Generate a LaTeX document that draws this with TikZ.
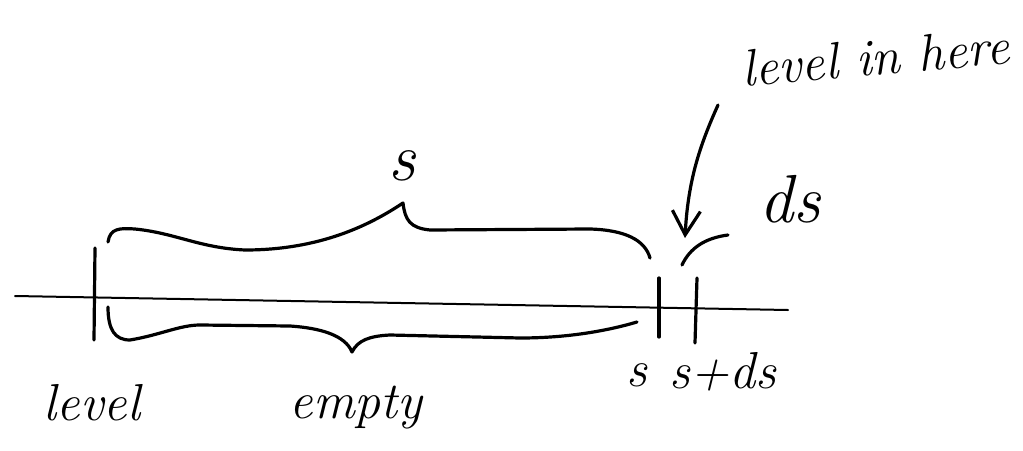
\documentclass[tikz,border=0pt]{standalone}
\usetikzlibrary{arrows.meta}
\begin{document}
\begin{tikzpicture}[x=0.5pt,y=-0.5pt,line width=1.6pt,line cap=round,line join=round,
  hand/.style={font=\fontsize{26}{30}\selectfont\itshape,inner sep=0pt,anchor=base},
  bigs/.style={font=\fontsize{34}{38}\selectfont\itshape,inner sep=0pt,anchor=base},
  pointer/.style={-{Straight Barb[length=12pt,width=14pt,line width=1.6pt]}}]
\useasboundingbox (0,0) rectangle (1023,450);
% axis and ticks
\coordinate (axL) at (15,296);
\coordinate (axR) at (788,310);
\draw[line width=1pt] (axL) -- (axR);
\coordinate (t1a) at (95,248); \coordinate (t1b) at (94,340);
\coordinate (t2a) at (659,278); \coordinate (t2b) at (659,337);
\coordinate (t3a) at (697,278); \coordinate (t3b) at (695,343);
\draw (t1a) -- (t1b);
\draw (t2a) -- (t2b);
\draw (t3a) -- (t3b);
% top brace
\draw (108,242) .. controls (110,228) and (120,228) .. (135,229)
  .. controls (175,233) and (200,248) .. (245,250)
  .. controls (320,250) and (370,225) .. (403,203)
  .. controls (405,220) and (410,228) .. (430,230)
  -- (590,229)
  .. controls (625,230) and (645,240) .. (650,258);
% bottom brace
\draw (108,307) .. controls (108,330) and (115,340) .. (130,340)
  .. controls (160,335) and (180,325) .. (200,325)
  -- (290,326)
  .. controls (320,328) and (345,335) .. (352,352)
  .. controls (358,340) and (370,336) .. (390,335)
  -- (520,338)
  .. controls (570,338) and (610,330) .. (637,322);
% ds arc
\draw (682,265) .. controls (690,248) and (705,238) .. (728,235);
% arrow
\coordinate (arrS) at (718,105);
\coordinate (arrE) at (685,238);
\draw[pointer] (arrS) .. controls (700,145) and (688,180) .. (arrE);
% labels
\node[bigs] (ltop) at (402,180) {s};
\node[hand,rotate=5] (lhere) at (877,75) {level in here};
\node[bigs] (lds) at (790,222) {ds};
\node[hand] (llevel) at (92,420) {level};
\node[hand] (lempty) at (356,418) {empty};
\node[hand] (ls) at (637,386) {s};
\node[hand] (lsds) at (723,388) {s+ds};
\end{tikzpicture}
\end{document}
